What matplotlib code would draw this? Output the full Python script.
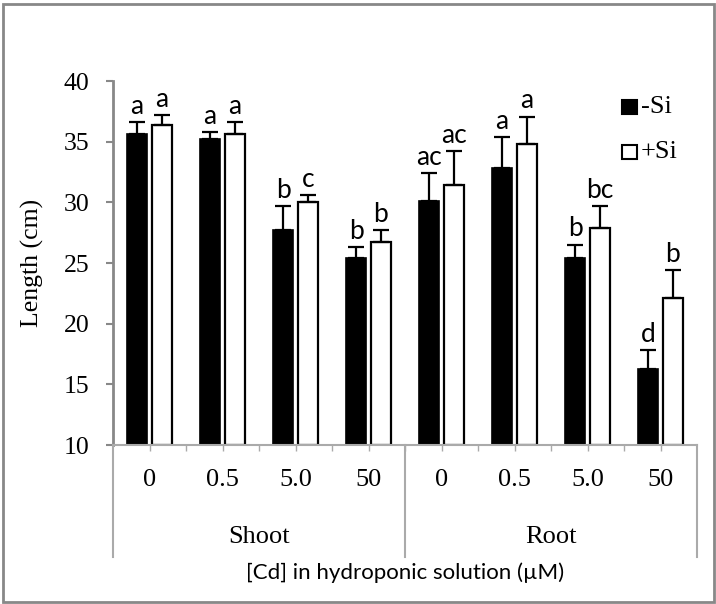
import numpy as np
import matplotlib.pyplot as plt
from matplotlib.patches import Rectangle
from matplotlib.lines import Line2D

# Cd concentrations (µM) per tissue
concs = ["0", "0.5", "5.0", "50", "0", "0.5", "5.0", "50"]
tissues = ["Shoot", "Root"]

# mean length (cm) and upper SE
minus_si = [35.6, 35.2, 27.7, 25.4, 30.1, 32.85, 25.4, 16.3]
minus_err = [1.0, 0.6, 2.0, 0.9, 2.3, 2.5, 1.1, 1.5]
plus_si = [36.4, 35.6, 30.05, 26.7, 31.4, 34.8, 27.85, 22.1]
plus_err = [0.8, 1.0, 0.55, 1.0, 2.8, 2.25, 1.85, 2.3]

# significance letters
minus_letters = ["a", "a", "b", "b", "ac", "a", "b", "d"]
plus_letters = ["a", "a", "c", "b", "ac", "a", "bc", "b"]

SERIF = "Liberation Serif"
SANS = "Lato"

W, H = 716, 604
fig = plt.figure(figsize=(W / 100, H / 100), dpi=100)

# axes box in pixels: x 113..697, y 81..445
left, right, top, bottom = 113, 697, 81, 445
ax = fig.add_axes([left / W, 1 - bottom / H, (right - left) / W, (bottom - top) / H])

x = np.arange(len(concs)) + 0.5
off = 0.171
width = 0.267

ax.bar(x - off, np.array(minus_si) - 10, width, bottom=10, color="black",
       edgecolor="black", linewidth=1.2, zorder=2)
ax.bar(x + off, np.array(plus_si) - 10, width, bottom=10, color="white",
       edgecolor="black", linewidth=1.6, zorder=2)

for xs, ys, es in [(x - off, minus_si, minus_err), (x + off, plus_si, plus_err)]:
    ax.errorbar(xs, ys, yerr=[np.zeros(len(es)), es], fmt="none", ecolor="black",
                elinewidth=1.6, capsize=6, capthick=1.6, zorder=3)

for xs, ys, es, labs in [(x - off, minus_si, minus_err, minus_letters),
                         (x + off, plus_si, plus_err, plus_letters)]:
    for xi, yi, ei, lab in zip(xs, ys, es, labs):
        ax.annotate(lab, (xi, yi + ei), xytext=(0, 6), textcoords="offset points",
                    ha="center", va="baseline", fontsize=19, family=SANS)

ax.set_xlim(0, len(concs))
ax.set_ylim(10, 40)
ax.set_yticks(np.arange(10, 41, 5))
ax.tick_params(axis="y", length=5, width=1.5, color="#888888", pad=12,
               labelsize=18.5)
for lab in ax.get_yticklabels():
    lab.set_family(SERIF)
ax.set_xticks(np.arange(0.5, len(concs), 0.5))
ax.set_xticklabels([])
ax.tick_params(axis="x", length=4, width=1, color="#aaaaaa")

for side in ["top", "right"]:
    ax.spines[side].set_visible(False)
ax.spines["left"].set_color("#888888")
ax.spines["left"].set_linewidth(2)
ax.spines["bottom"].set_color("#aaaaaa")
ax.spines["bottom"].set_linewidth(1.5)

ax.set_ylabel("Length (cm)", family=SERIF, fontsize=18.5, labelpad=14)

# two-level category axis below the bars
def fx(px):
    return px / W

def fy(py):
    return 1 - py / H

cat_w = (right - left) / len(concs)
for i, c in enumerate(concs):
    fig.text(fx(left + (i + 0.5) * cat_w), fy(480), c, ha="center", va="center",
             family=SERIF, fontsize=19)
for j, t in enumerate(tissues):
    fig.text(fx(left + (j * 4 + 2) * cat_w), fy(537), t, ha="center", va="center",
             family=SERIF, fontsize=19)
for k in [0, 4, 8]:
    xp = fx(left + k * cat_w)
    fig.add_artist(Line2D([xp, xp], [fy(bottom), fy(557)], color="#aaaaaa",
                          linewidth=1.5))

fig.text(fx(405), fy(573), "[Cd] in hydroponic solution (µM)", ha="center",
         va="center", family=SANS, fontsize=16)

# legend
for yy, fc, lab in [(107, "black", "-Si"), (152, "white", "+Si")]:
    fig.add_artist(Rectangle((fx(622), fy(yy + 7)), 15 / W, 14 / H,
                             facecolor=fc, edgecolor="black", linewidth=1.5))
    fig.text(fx(641), fy(yy), lab, ha="left", va="center", family=SERIF,
             fontsize=19)

# outer frame
fig.add_artist(Rectangle((fx(2.5), fy(602)), 711 / W, 598 / H, fill=False,
                         edgecolor="#888888", linewidth=2))

fig.savefig("out.png", dpi=100)
